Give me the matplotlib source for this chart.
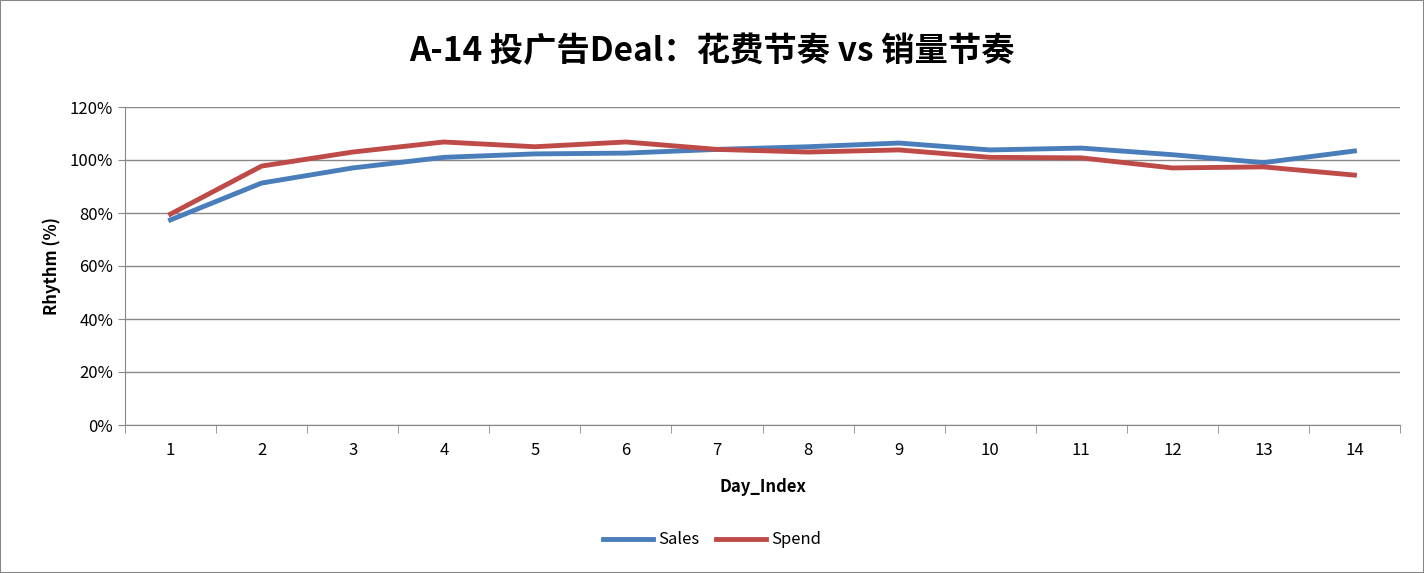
import matplotlib
matplotlib.use("Agg")
import matplotlib.pyplot as plt
from matplotlib.ticker import PercentFormatter, FixedLocator

plt.rcParams['font.family'] = ['Noto Sans CJK SC', 'DejaVu Sans']

days = list(range(1, 15))
sales = [77.4, 91.3, 97.0, 101.0, 102.3, 102.6, 104.0, 105.0, 106.4, 103.8, 104.5, 102.0, 99.0, 103.4]
spend = [79.6, 97.7, 103.0, 106.8, 105.0, 106.8, 104.0, 103.0, 103.8, 101.0, 100.8, 97.0, 97.4, 94.3]

fig = plt.figure(figsize=(14.24, 5.73), dpi=100)
fig.patches.append(plt.Rectangle((0, 0), 1, 1, transform=fig.transFigure, fill=False,
                                 edgecolor='#888888', linewidth=1.5))
ax = fig.add_axes([125/1424, 1-425/573, (1400-125)/1424, (425-107)/573])
ax.plot(days, sales, color='#4a7ebb', lw=3.5, label='Sales')
ax.plot(days, spend, color='#be4b48', lw=3.5, label='Spend')
ax.set_xlim(0.5, 14.5)
ax.set_ylim(0, 120)
ax.set_yticks(range(0, 121, 20))
ax.yaxis.set_major_formatter(PercentFormatter(decimals=0))
ax.set_xticks(days)
ax.xaxis.set_minor_locator(FixedLocator([d + 0.5 for d in range(0, 15)]))
ax.tick_params(axis='x', which='major', length=0, pad=12)
ax.tick_params(axis='x', which='minor', length=6, color='#888888')
ax.tick_params(axis='y', length=5, color='#888888')
ax.tick_params(labelsize=12)
ax.grid(axis='y', color='#888888', lw=1)
ax.set_axisbelow(True)
for s in ['top', 'right']:
    ax.spines[s].set_visible(False)
for s in ['left', 'bottom']:
    ax.spines[s].set_color('#888888')
ax.set_xlabel('Day_Index', fontsize=12, fontweight='bold', labelpad=14)
ax.set_ylabel('Rhythm (%)', fontsize=12, fontweight='bold', labelpad=6)
fig.text(0.5, 1-52/573, 'A-14 投广告Deal：花费节奏 vs 销量节奏', ha='center', va='center',
         fontsize=24, fontweight='bold')
fig.legend(loc='center', bbox_to_anchor=(0.5, 1-540/573), ncol=2, frameon=False,
           fontsize=12, handlelength=3, handletextpad=0.3, columnspacing=1.0)
fig.savefig('out.png', dpi=100)
